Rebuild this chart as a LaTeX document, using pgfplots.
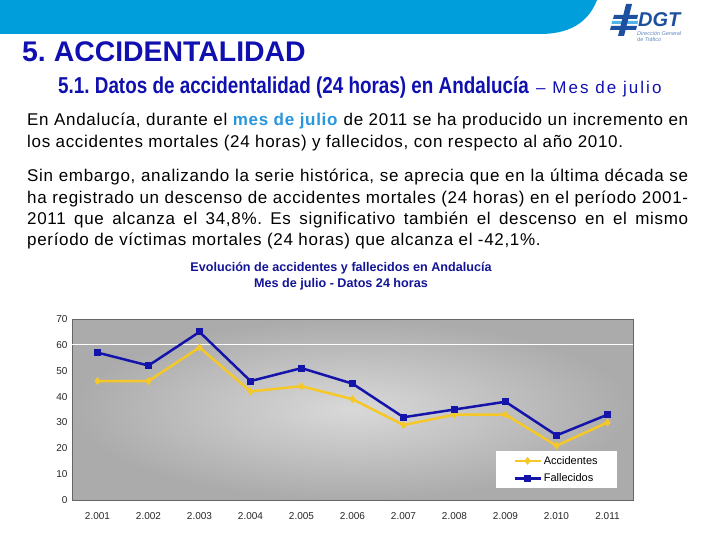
\documentclass[border=0pt]{standalone}
\usepackage{pgfplots}
\pgfplotsset{compat=1.18}
\usepackage{fontspec}
\setmainfont{Liberation Sans}
\newfontfamily\narrowfont[FakeStretch=0.82]{Liberation Sans}
\newfontfamily\subfont[LetterSpace=12]{Liberation Sans}
\newfontfamily\parafont[LetterSpace=4]{Liberation Sans}
\definecolor{band}{RGB}{0,158,219}
\definecolor{navy}{RGB}{16,16,176}
\definecolor{ctitle}{RGB}{20,20,150}
\definecolor{lblue}{RGB}{40,150,220}
\definecolor{fall}{RGB}{20,20,170}
\definecolor{acc}{RGB}{245,200,40}
\definecolor{logoblue}{RGB}{30,80,160}
\definecolor{logocyan}{RGB}{80,180,230}
\pgfplotstableread{
x acc fall
0 46 57
1 46 52
2 59 65
3 42 46
4 44 51
5 39 45
6 29 32
7 33 35
8 33 38
9 21 25
10 30 33
}\datos
\begin{document}
\frenchspacing
\begin{tikzpicture}[x=1pt,y=1pt]
\path[use as bounding box] (0,0) rectangle (720,540);
% header band
\fill[band] (0,540) -- (0,506) -- (540,506) .. controls (575,506) and (590,522) .. (597,540) -- cycle;
% logo
\fill[logoblue] (614,525) -- (638,525) -- (637,521) -- (613,521) -- cycle;
\fill[logocyan] (612,519) -- (638,519) -- (637.5,516) -- (611.5,516) -- cycle;
\fill[logoblue] (611,514) -- (637,514) -- (636,510) -- (610,510) -- cycle;
\fill[logoblue] (626,536) -- (632,536) -- (624,504) -- (618,504) -- cycle;
\node[anchor=west,inner sep=0,text=logoblue,font=\fontsize{20}{20}\selectfont\bfseries\itshape] at (638,520) {DGT};
\node[anchor=north west,inner sep=0,text=logoblue!70,align=left,font=\fontsize{5.5}{6}\selectfont\itshape] at (637,509) {Dirección General\\de Tráfico};
% titles
\node[anchor=base west,inner sep=0,text=navy,font=\fontsize{28.4}{30}\selectfont\bfseries] at (22,478) {5. ACCIDENTALIDAD};
\node[anchor=base west,inner sep=0,text=navy,font=\narrowfont\fontsize{23}{25}\selectfont\bfseries] at (58,446) {5.1. Datos de accidentalidad (24 horas) en Andalucía};
\node[anchor=base west,inner sep=0,text=navy,font=\subfont\fontsize{17}{19}\selectfont] at (536,446) {– Mes de julio};
% paragraph
\begin{scope}[every node/.style={anchor=base west,inner sep=0,font=\parafont\fontsize{17}{19}\selectfont}]
\node at (27,414) {\makebox[661pt][s]{En Andalucía, durante el \textcolor{lblue}{\textbf{mes de julio}} de 2011 se ha producido un incremento en}};
\node at (27,392) {los accidentes mortales (24 horas) y fallecidos, con respecto al año 2010.};
\node at (27,358) {\makebox[661pt][s]{Sin embargo, analizando la serie histórica, se aprecia que en la última década se}};
\node at (27,336) {\makebox[661pt][s]{ha registrado un descenso de accidentes mortales (24 horas) en el período 2001-}};
\node at (27,315) {\makebox[661pt][s]{2011 que alcanza el 34,8\%. Es significativo también el descenso en el mismo}};
\node at (27,294) {período de víctimas mortales (24 horas) que alcanza el -42,1\%.};
\end{scope}
% chart title
\node[align=center,text=ctitle,font=\fontsize{12.6}{16}\selectfont\bfseries] at (341,264) {Evolución de accidentes y fallecidos en Andalucía\\Mes de julio - Datos 24 horas};
\begin{axis}[
  at={(72pt,40pt)}, anchor=south west,
  width=561pt, height=181pt, scale only axis,
  xmin=-0.5, xmax=10.5, ymin=0, ymax=70,
  xtick={0,...,10},
  xticklabels={2.001,2.002,2.003,2.004,2.005,2.006,2.007,2.008,2.009,2.010,2.011},
  ytick={0,10,...,70},
  major tick length=0pt,
  axis line style={draw=gray!80!black, line width=0.8pt},
  axis background/.style={inner color=gray!30, outer color=gray!66},
  tick label style={font=\fontsize{10}{12}\selectfont, text=black!85},
  /pgf/number format/assume math mode=true,
  xticklabel style={yshift=-9pt},
  yticklabel style={xshift=-1pt},
  extra y ticks={60}, extra y tick labels={},
  extra y tick style={grid=major, major grid style={white, line width=0.8pt}},
  legend style={at={(0.756,0.271)}, anchor=north west, draw=none, fill=white,
    font=\fontsize{11}{13}\selectfont, inner xsep=17pt, inner ysep=3pt, row sep=4pt},
  legend cell align=left,
  legend image code/.code={\draw[mark repeat=2,mark phase=2] plot coordinates {(0pt,0pt) (13pt,0pt) (26pt,0pt)};},
]
\addplot[acc, line width=2.5pt, mark=diamond*, mark size=2pt, mark options={solid}] table[x=x,y=acc] {\datos};
\addlegendentry{Accidentes}
\addplot[fall, line width=2.5pt, mark=square*, mark size=2.2pt, mark options={solid}] table[x=x,y=fall] {\datos};
\addlegendentry{Fallecidos}
\end{axis}
\end{tikzpicture}
\end{document}
